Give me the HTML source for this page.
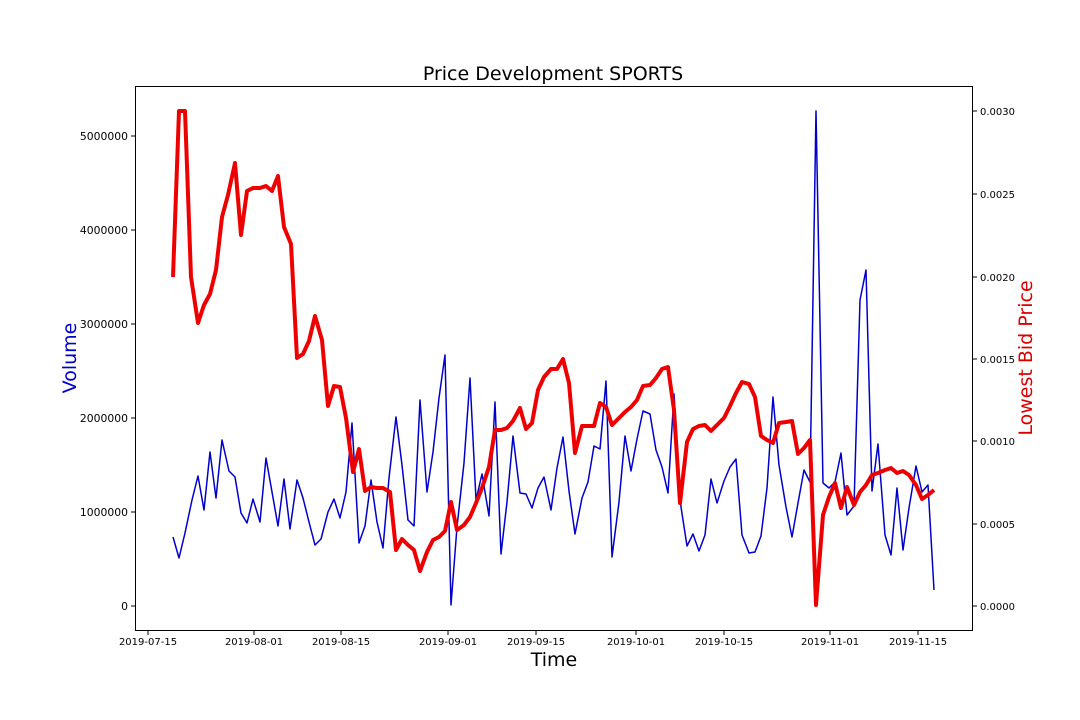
<!DOCTYPE html>
<html><head><meta charset="utf-8"><style>
html,body{margin:0;padding:0;background:#fff;}
svg{display:block;font-family:"DejaVu Sans","Liberation Sans",sans-serif;}
</style></head><body>
<svg width="1080" height="720" viewBox="0 0 1080 720" xmlns="http://www.w3.org/2000/svg">
<rect width="1080" height="720" fill="#fff"/>
<text x="553" y="80" font-size="19" text-anchor="middle" fill="#000">Price Development SPORTS</text>
<polyline fill="none" stroke="#0000cc" stroke-width="1.5" stroke-linejoin="round" points="173,537 179,558 185,533 192,500 198,476 204,510 210,452 216,498 222,440 229,471 235,477 241,513 247,523 253,499 260,522 266,458 272,492 278,526 284,479 290,529 297,480 303,498 309,522 315,545 321,539 328,512 334,499 340,518 346,492 352,423 359,543 365,526 371,480 377,522 383,548 389,478 396,417 402,465 408,520 414,526 420,400 427,492 433,452 439,398 445,355 451,605 457,527 464,463 470,378 476,500 482,474 489,516 495,402 501,554 507,502 513,436 520,493 526,494 532,508 538,488 544,477 551,510 557,468 563,437 569,491 575,534 582,498 588,482 594,446 600,449 606,381 612,557 619,502 625,436 631,471 637,439 643,411 650,414 656,450 662,467 668,493 674,394 681,507 687,546 693,534 699,551 705,535 711,479 717,503 724,481 730,467 736,459 742,535 749,553 755,552 761,536 767,488 773,397 779,465 786,507 792,537 798,503 804,470 810,482 816,111 823,483 829,488 835,482 841,453 847,515 854,506 860,300 866,270 872,491 878,444 885,535 891,555 897,488 903,550 909,508 916,466 922,492 928,485 934,590"/>
<polyline fill="none" stroke="#ee0000" stroke-width="4" stroke-linejoin="round" points="173,277 179,111 185,111 191,277 198,323 204,305 210,294 216,270 222,217 228,195 235,163 241,235 247,191 253,188 260,188 266,186 272,191 278,176 284,227 291,244 297,358 303,354 309,341 315,316 322,340 328,406 334,386 340,387 346,418 353,472 359,449 365,491 371,487 377,488 383,488 390,492 396,550 402,539 408,545 414,550 420,571 427,552 433,540 439,537 445,531 451,502 457,530 464,525 470,517 476,503 482,488 489,467 495,430 501,430 507,428 513,421 520,408 526,429 532,423 538,390 544,377 551,369 557,369 563,359 569,383 575,453 582,426 588,426 594,426 600,403 606,407 612,425 619,418 625,412 631,407 637,400 643,386 650,385 656,378 662,369 668,367 674,410 680,503 687,442 693,429 699,426 705,425 711,431 717,425 724,418 730,406 736,393 742,382 749,384 755,397 761,436 767,440 773,443 779,423 786,422 792,421 798,454 804,448 810,440 816,605 823,515 829,497 835,483 841,508 847,487 854,505 860,492 866,485 872,475 878,473 885,470 891,468 897,473 903,471 909,475 916,485 922,499 928,495 934,490"/>
<rect x="135.5" y="86.5" width="837" height="544" fill="none" stroke="#000" stroke-width="1"/>
<g stroke="#000" stroke-width="1">
<line x1="131" y1="606" x2="135" y2="606"/><line x1="131" y1="512" x2="135" y2="512"/><line x1="131" y1="418" x2="135" y2="418"/><line x1="131" y1="324" x2="135" y2="324"/><line x1="131" y1="230" x2="135" y2="230"/><line x1="131" y1="136" x2="135" y2="136"/>
<line x1="973" y1="606" x2="977" y2="606"/><line x1="973" y1="524" x2="977" y2="524"/><line x1="973" y1="441" x2="977" y2="441"/><line x1="973" y1="359" x2="977" y2="359"/><line x1="973" y1="277" x2="977" y2="277"/><line x1="973" y1="194" x2="977" y2="194"/><line x1="973" y1="111" x2="977" y2="111"/>
<line x1="148" y1="631" x2="148" y2="635"/><line x1="254" y1="631" x2="254" y2="635"/><line x1="341" y1="631" x2="341" y2="635"/><line x1="448" y1="631" x2="448" y2="635"/><line x1="536" y1="631" x2="536" y2="635"/><line x1="636" y1="631" x2="636" y2="635"/><line x1="724" y1="631" x2="724" y2="635"/><line x1="830" y1="631" x2="830" y2="635"/><line x1="918" y1="631" x2="918" y2="635"/>
</g>
<g font-size="10.8" fill="#000" text-anchor="end">
<text x="128" y="610">0</text><text x="128" y="516">1000000</text><text x="128" y="422">2000000</text><text x="128" y="328">3000000</text><text x="128" y="234">4000000</text><text x="128" y="140">5000000</text>
</g>
<g font-size="10" fill="#000">
<text x="980" y="610">0.0000</text><text x="980" y="528">0.0005</text><text x="980" y="445">0.0010</text><text x="980" y="363">0.0015</text><text x="980" y="281">0.0020</text><text x="980" y="198">0.0025</text><text x="980" y="115">0.0030</text>
</g>
<g font-size="10" fill="#000" text-anchor="middle">
<text x="148" y="645">2019-07-15</text><text x="254" y="645">2019-08-01</text><text x="341" y="645">2019-08-15</text><text x="448" y="645">2019-09-01</text><text x="536" y="645">2019-09-15</text><text x="636" y="645">2019-10-01</text><text x="724" y="645">2019-10-15</text><text x="830" y="645">2019-11-01</text><text x="918" y="645">2019-11-15</text>
</g>
<text x="554" y="666" font-size="19" text-anchor="middle" fill="#000">Time</text>
<text transform="translate(76,358) rotate(-90)" font-size="19" text-anchor="middle" fill="#0000cc">Volume</text>
<text transform="translate(1032,358) rotate(-90)" font-size="19" text-anchor="middle" fill="#dd0000">Lowest Bid Price</text>
</svg>
</body></html>
